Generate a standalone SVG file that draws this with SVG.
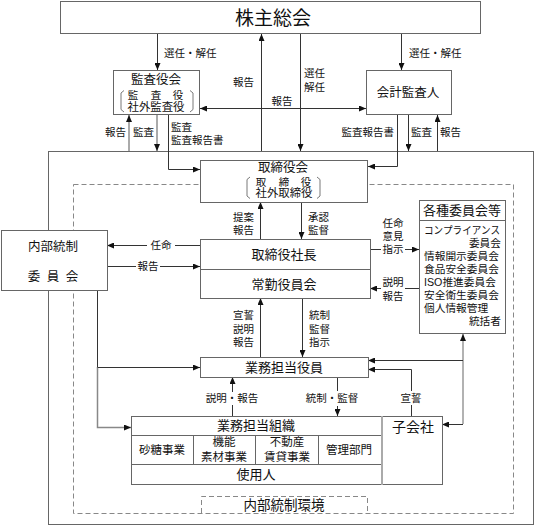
<svg xmlns="http://www.w3.org/2000/svg" width="536" height="527" viewBox="0 0 536 527">
<defs>
<marker id="ah" viewBox="0 0 7 6" refX="7" refY="3" markerWidth="7" markerHeight="6" orient="auto-start-reverse" markerUnits="userSpaceOnUse"><path d="M0,0 L7,3 L0,6 z" fill="#111"/></marker>
<style>
.t{font-family:"Liberation Sans","Noto Sans CJK JP","Noto Sans CJK SC",sans-serif;fill:#111;dominant-baseline:central;text-anchor:middle}
.s{font-size:10.5px}
.st{text-anchor:start}
.en{text-anchor:end}
.m{font-size:12.5px}
.n{font-size:11.5px}
.sm{font-size:10.5px}
.c{font-size:10.7px}
.box{fill:#fff;stroke:#666;stroke-width:1}
.frame{fill:none;stroke:#666;stroke-width:1}
.dash{fill:none;stroke:#888;stroke-width:1;stroke-dasharray:5 3}
.ln{fill:none;stroke:#333;stroke-width:1}
.gl{fill:none;stroke:#aaa;stroke-width:2}
.ar{marker-end:url(#ah)}
.br{fill:none;stroke:#555;stroke-width:0.8}
</style>
</defs>
<rect class="frame" x="48.5" y="151.5" width="485" height="373"/>
<rect class="dash" x="73.5" y="184.5" width="440" height="329"/>
<g id="connectors">
<path class="ln ar" d="M157.5,33 V70"/>
<path class="ln ar" d="M401.5,33 V70"/>
<path class="ln ar" d="M261.5,151 V34"/>
<path class="ln ar" d="M300.5,34 V151"/>
<path class="ln ar" d="M200,108.5 H366" style="marker-start:url(#ah)"/>
<path class="gl ar" d="M129,151 V115"/>
<path class="gl ar" d="M157,115 V151"/>
<path class="ln ar" d="M168.5,115 V169.5 H200"/>
<path class="ln ar" d="M397.5,115 V166.5 H368"/>
<path class="ln ar" d="M408.5,115 V151"/>
<path class="ln ar" d="M437.5,151 V115"/>
<path class="ln ar" d="M260.5,239 V202"/>
<path class="ln ar" d="M301.5,202 V239"/>
<path class="ln" d="M200,245.5 H175"/>
<path class="ln ar" d="M147,245.5 H107"/>
<path class="ln" d="M107,266.5 H136"/>
<path class="ln ar" d="M160,266.5 H200"/>
<path class="ln" d="M370,249.5 H381"/>
<path class="ln ar" d="M405,249.5 H419"/>
<path class="ln" d="M419,288.5 H405"/>
<path class="ln ar" d="M381,288.5 H370"/>
<path class="ln ar" d="M260.5,357 V298"/>
<path class="ln ar" d="M302.5,298 V357"/>
<path class="ln" d="M232.5,416 V405"/>
<path class="ln ar" d="M232.5,392 V377"/>
<path class="ln" d="M337.5,377 V391"/>
<path class="ln ar" d="M337.5,406 V416"/>
<path class="ln" d="M411.5,416 V405"/>
<path class="ln ar" d="M411.5,391 V369.5 H368"/>
<path class="gl ar" d="M463,424 V334" style="stroke:#999;stroke-width:1.5"/>
<path class="ln ar" d="M463,360.5 H368"/>
<path class="ln ar" d="M463,424.5 H442"/>
<path class="ln" d="M97.5,290 V367.5"/>
<path class="gl ar" d="M97.5,367 V427.5 H131" style="stroke:#888;stroke-width:1.5"/>
<path class="ln ar" d="M97.5,367.5 H200"/>
</g>
<g id="labels">
<text class="t s st" x="164" y="53">選任・解任</text>
<text class="t s st" x="409" y="53">選任・解任</text>
<text class="t s en" x="254" y="82">報告</text>
<text class="t s st" x="304" y="73">選任</text>
<text class="t s st" x="304" y="87">解任</text>
<text class="t s" x="282" y="101">報告</text>
<text class="t s en" x="126" y="132">報告</text>
<text class="t s en" x="154" y="132">監査</text>
<text class="t s st" x="171" y="127">監査</text>
<text class="t s st" x="171" y="140">監査報告書</text>
<text class="t s en" x="394" y="132">監査報告書</text>
<text class="t s st" x="411" y="132">監査</text>
<text class="t s st" x="440" y="132">報告</text>
<text class="t s en" x="254" y="217">提案</text>
<text class="t s en" x="254" y="230">報告</text>
<text class="t s st" x="308" y="217">承認</text>
<text class="t s st" x="308" y="230">監督</text>
<text class="t s" x="161" y="245">任命</text>
<text class="t s" x="148" y="266">報告</text>
<text class="t s" x="393" y="223">任命</text>
<text class="t s" x="393" y="236">意見</text>
<text class="t s" x="393" y="249">指示</text>
<text class="t s" x="393" y="282">説明</text>
<text class="t s" x="393" y="296">報告</text>
<text class="t s en" x="254" y="315">宣誓</text>
<text class="t s en" x="254" y="329">説明</text>
<text class="t s en" x="254" y="342">報告</text>
<text class="t s st" x="309" y="315">統制</text>
<text class="t s st" x="309" y="329">監督</text>
<text class="t s st" x="309" y="342">指示</text>
<text class="t s" x="232" y="398">説明・報告</text>
<text class="t s" x="332" y="398">統制・監督</text>
<text class="t s" x="411" y="398">宣誓</text>
</g>
<g id="n-kabunushi">
<rect class="box" x="60.5" y="1.5" width="420" height="32"/>
<text class="t" x="273" y="18" style="font-size:19px">株主総会</text>
</g>
<g id="n-kansayakukai">
<rect class="box" x="113.5" y="70.5" width="86" height="44"/>
<text class="t m" x="156" y="80">監査役会</text>
<text class="t sm" x="133 156 178" y="95">監査役</text>
<text class="t n" x="156" y="106.5" textLength="57" lengthAdjust="spacingAndGlyphs" style="font-size:10.8px">社外監査役</text>
<path class="br" d="M124,90.5 L121,93 V109.5 L124,112"/>
<path class="br" d="M190,90.5 L193,93 V109.5 L190,112"/>
</g>
<g id="n-kaikei">
<rect class="box" x="366.5" y="70.5" width="85" height="44"/>
<text class="t m" x="408" y="93">会計監査人</text>
</g>
<g id="n-torishimariyakukai">
<rect class="box" x="200.5" y="160.5" width="167" height="42"/>
<text class="t m" x="283" y="168">取締役会</text>
<text class="t sm" x="261 284 306" y="181.5">取締役</text>
<text class="t n" x="284" y="193" textLength="57" lengthAdjust="spacingAndGlyphs" style="font-size:10.8px">社外取締役</text>
<path class="br" d="M250,177 L247,179.5 V196 L250,198.5"/>
<path class="br" d="M317,177 L320,179.5 V196 L317,198.5"/>
</g>
<g id="n-shacho">
<rect class="box" x="200.5" y="239.5" width="170" height="59"/>
<line class="frame" x1="200.5" y1="269.5" x2="370.5" y2="269.5"/>
<text class="t" x="284" y="254" style="font-size:13px">取締役社長</text>
<text class="t" x="284" y="284" style="font-size:13px">常勤役員会</text>
</g>
<g id="n-naibutosei">
<rect class="box" x="1.5" y="230.5" width="106" height="60"/>
<text class="t m" x="53" y="247">内部統制</text>
<text class="t m" x="34 53 72" y="277">委員会</text>
</g>
<g id="n-kakushu">
<rect class="box" x="419.5" y="200.5" width="86" height="133"/>
<line class="frame" x1="419.5" y1="220.5" x2="505.5" y2="220.5"/>
<text class="t" x="462" y="210" style="font-size:13px">各種委員会等</text>
<text class="t c st" x="424" y="230" textLength="76" lengthAdjust="spacingAndGlyphs">コンプライアンス</text>
<text class="t c en" x="501" y="243">委員会</text>
<text class="t c st" x="424" y="256">情報開示委員会</text>
<text class="t c st" x="424" y="269">食品安全委員会</text>
<text class="t c st" x="424" y="282">ISO推進委員会</text>
<text class="t c st" x="424" y="295">安全衛生委員会</text>
<text class="t c st" x="424" y="308">個人情報管理</text>
<text class="t c en" x="501" y="321">統括者</text>
</g>
<g id="n-gyomuyakuin">
<rect class="box" x="200.5" y="357.5" width="168" height="20"/>
<text class="t" x="284" y="367" style="font-size:13px">業務担当役員</text>
</g>
<g id="n-gyomusoshiki">
<rect class="box" x="131.5" y="416.5" width="250" height="68"/>
<line class="frame" x1="131.5" y1="435.5" x2="381.5" y2="435.5"/>
<line class="frame" x1="131.5" y1="464.5" x2="381.5" y2="464.5"/>
<line class="frame" x1="193.5" y1="435.5" x2="193.5" y2="464.5"/>
<line class="frame" x1="255.5" y1="435.5" x2="255.5" y2="464.5"/>
<line class="frame" x1="318.5" y1="435.5" x2="318.5" y2="464.5"/>
<text class="t" x="256" y="425" style="font-size:13px">業務担当組織</text>
<text class="t n" x="162" y="450">砂糖事業</text>
<text class="t n" x="224" y="442">機能</text>
<text class="t n" x="224" y="457">素材事業</text>
<text class="t n" x="287" y="442">不動産</text>
<text class="t n" x="287" y="457">賃貸事業</text>
<text class="t n" x="349" y="450">管理部門</text>
<text class="t" x="256" y="474" style="font-size:13px">使用人</text>
</g>
<g id="n-kogaisha">
<rect class="box" x="382.5" y="416.5" width="60" height="68"/>
<line x1="382" y1="416" x2="382" y2="485" stroke="#aaa" stroke-width="2"/>
<text class="t" x="413" y="427" style="font-size:14px">子会社</text>
</g>
<g id="n-kankyo">
<path class="dash" d="M201.5,513 V496.5 H367.5 V513"/>
<text class="t" x="284" y="505" style="font-size:13.5px">内部統制環境</text>
</g>
</svg>
